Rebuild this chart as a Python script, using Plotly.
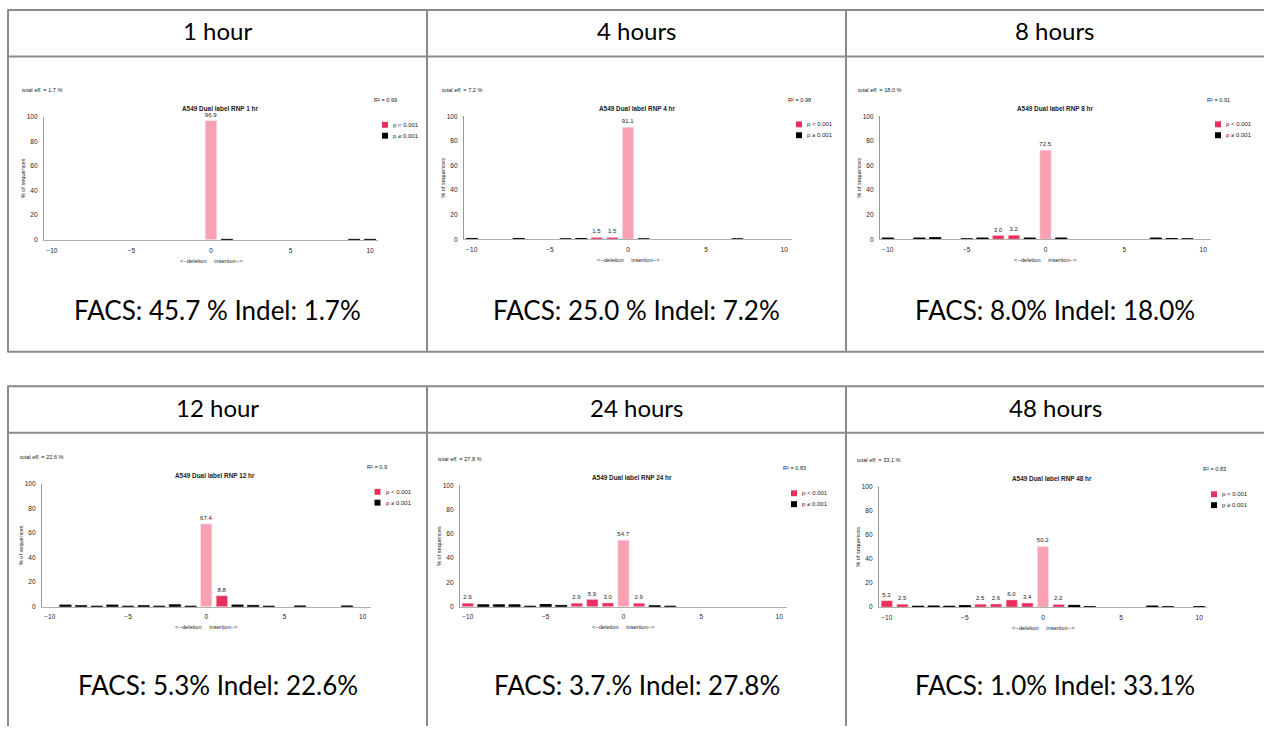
import plotly.graph_objects as go

W, H = 1264, 729

# ---------------- data ----------------
headers = ["1 hour", "4 hours", "8 hours", "12 hour", "24 hours", "48 hours"]
facs_text = ["FACS: 45.7 % Indel: 1.7%", "FACS: 25.0 % Indel: 7.2%", "FACS: 8.0% Indel: 18.0%",
             "FACS: 5.3% Indel: 22.6%", "FACS: 3.7.% Indel: 27.8%", "FACS: 1.0% Indel: 33.1%"]
chart_titles = ["A549 Dual label RNP 1 hr", "A549 Dual label RNP 4 hr", "A549 Dual label RNP 8 hr",
                "A549 Dual label RNP 12 hr", "A549 Dual label RNP 24 hr", "A549 Dual label RNP 48 hr"]
total_eff = ["1.7", "7.2", "18.0", "22.6", "27.8", "33.1"]
r_squared = ["0.99", "0.98", "0.91", "0.9", "0.83", "0.83"]

# indel size, % of sequences, class: wt = unmodified, s = p < 0.001, ns = p >= 0.001
p1_size = [0, 1, 9, 10]
p1_val = [96.9, 0.3, 0.3, 0.3]
p1_cls = ["wt", "ns", "ns", "ns"]

p2_size = [-10, -7, -4, -3, -2, -1, 0, 1, 7]
p2_val = [0.6, 0.6, 0.3, 0.6, 1.5, 1.5, 91.1, 0.3, 0.3]
p2_cls = ["ns", "ns", "ns", "ns", "s", "s", "wt", "ns", "ns"]

p3_size = [-10, -8, -7, -5, -4, -3, -2, -1, 0, 1, 7, 8, 9]
p3_val = [1.0, 1.0, 1.3, 0.4, 1.0, 3.0, 3.2, 1.0, 72.5, 1.0, 1.0, 0.6, 0.4]
p3_cls = ["ns", "ns", "ns", "ns", "ns", "s", "s", "ns", "wt", "ns", "ns", "ns", "ns"]

p4_size = [-9, -8, -7, -6, -5, -4, -3, -2, -1, 0, 1, 2, 3, 4, 6, 9]
p4_val = [1.3, 0.8, 0.4, 1.3, 0.4, 0.8, 0.4, 1.5, 0.4, 67.4, 8.8, 1.3, 1.0, 0.4, 0.6, 0.6]
p4_cls = ["ns", "ns", "ns", "ns", "ns", "ns", "ns", "ns", "ns", "wt", "s", "ns", "ns", "ns", "ns", "ns"]

p5_size = [-10, -9, -8, -7, -6, -5, -4, -3, -2, -1, 0, 1, 2, 3]
p5_val = [2.9, 1.5, 1.5, 1.5, 0.4, 1.8, 1.0, 2.9, 5.9, 3.0, 54.7, 2.9, 0.8, 0.4]
p5_cls = ["s", "ns", "ns", "ns", "ns", "ns", "ns", "s", "s", "s", "wt", "s", "ns", "ns"]

p6_size = [-10, -9, -8, -7, -6, -5, -4, -3, -2, -1, 0, 1, 2, 3, 7, 8, 10]
p6_val = [5.3, 2.5, 0.8, 1.0, 0.8, 1.3, 2.5, 2.6, 6.0, 3.4, 50.2, 2.2, 1.5, 0.4, 1.0, 0.4, 0.4]
p6_cls = ["s", "s", "ns", "ns", "ns", "ns", "s", "s", "s", "s", "wt", "s", "ns", "ns", "ns", "ns", "ns"]

panels = [(p1_size, p1_val, p1_cls), (p2_size, p2_val, p2_cls), (p3_size, p3_val, p3_cls),
          (p4_size, p4_val, p4_cls), (p5_size, p5_val, p5_cls), (p6_size, p6_val, p6_cls)]

x_ticks = [-10, -5, 0, 5, 10]
y_ticks = [0, 20, 40, 60, 80, 100]

# ---------------- layout geometry (pixels) ----------------
# plot area: x left, x right, y of 0, y of 100
plot_px = [(44, 378, 238, 114), (464, 792, 237.5, 113.5), (880, 1211, 237.5, 113.5),
           (42, 370.5, 608.5, 484.5), (460, 787, 608.5, 486), (879, 1207, 609, 487)]
col_edges = [8, 427, 846, 1264]
row_tops = [(6, 53, 351), (386, 433, 729)]

COL_WT = "#F7A1B3"
COL_S = "#E8305F"
COL_NS = "#000000"
CHART_FONT = "Liberation Sans, Arial, sans-serif"
TABLE_FONT = "Lato, Open Sans, sans-serif"
LINE = "#8a8a8a"


def px(x):
    return x / W


def py(y):
    return 1 - y / H


fig = go.Figure()
annotations = []
shapes = []

bar_lines = {"wt": dict(color="#fbe3e8", width=0.6), "s": dict(color="#f5c3cf", width=0.5),
             "ns": dict(color="#000000", width=0.9)}

for i, (sizes, vals, cls) in enumerate(panels):
    k = i + 1
    xa = "x" if k == 1 else f"x{k}"
    ya = "y" if k == 1 else f"y{k}"
    for c, col in (("wt", COL_WT), ("s", COL_S), ("ns", COL_NS)):
        xs = [s for s, cc in zip(sizes, cls) if cc == c]
        ys = [v for v, cc in zip(vals, cls) if cc == c]
        if not xs:
            continue
        fig.add_trace(go.Bar(
            x=xs, y=ys, xaxis=xa, yaxis=ya, width=0.72,
            marker=dict(color=col, line=bar_lines[c]),
            text=[f"{v:.1f}" for v in ys] if c != "ns" else None,
            textposition="outside", textfont=dict(size=6, color="#222", family=CHART_FONT),
            constraintext="none", cliponaxis=False, showlegend=False, hoverinfo="x+y",
        ))
    l, r, y0, y100 = plot_px[i]
    fig.layout[f"xaxis{'' if k == 1 else k}"] = dict(
        domain=[px(l), px(r)], range=[-10.5, 10.5], anchor=ya, tickvals=x_ticks,
        showline=True, linecolor="#b0b0b0", linewidth=1, showgrid=False, zeroline=False,
        ticks="", ticklabelstandoff=4, tickfont=dict(size=6.5, color="#222", family=CHART_FONT),
        fixedrange=True)
    fig.layout[f"yaxis{'' if k == 1 else k}"] = dict(
        domain=[py(y0), py(y100)], range=[0, 100], anchor=xa, tickvals=y_ticks,
        showline=True, linecolor="#999999", linewidth=1.2, showgrid=False, zeroline=False,
        ticks="", ticklabelstandoff=4, tickfont=dict(size=6.5, color="#222", family=CHART_FONT),
        fixedrange=True)

    x0px = (l + r) / 2
    cf = dict(family=CHART_FONT, color="#222")
    annotations += [
        dict(x=px(l - 24), y=py(y100 - 27), text=f"total eff. = {total_eff[i]} %", xanchor="left",
             yanchor="middle", font=dict(size=5.6, **cf)),
        dict(x=px(r - 6), y=py(y100 - 17), text=f"R² = {r_squared[i]}", xanchor="left",
             yanchor="middle", font=dict(size=5.6, **cf)),
        dict(x=px(x0px + 9), y=py(y100 - 8), text=f"<b>{chart_titles[i]}</b>", xanchor="center",
             yanchor="middle", font=dict(size=6.4, **cf)),
        dict(x=px(l - 21), y=py((y0 + y100) / 2), text="% of sequences", textangle=-90,
             xanchor="center", yanchor="middle", font=dict(size=5.6, **cf)),
        dict(x=px(x0px), y=py(y0 + 21), text="&lt;--deletion&nbsp;&nbsp;&nbsp;&nbsp;&nbsp;insertion--&gt;",
             xanchor="center", yanchor="middle", font=dict(size=5.6, **cf)),
        dict(x=px(r + 13), y=py(y100 + 8), text="p &lt; 0.001", xanchor="left", yanchor="middle",
             font=dict(size=6, **cf)),
        dict(x=px(r + 13), y=py(y100 + 19), text="p ≥ 0.001", xanchor="left", yanchor="middle",
             font=dict(size=6, **cf)),
    ]
    for dy, col in ((8, COL_S), (19, COL_NS)):
        shapes.append(dict(type="rect", xref="paper", yref="paper",
                           x0=px(r + 4), x1=px(r + 10), y0=py(y100 + dy - 3), y1=py(y100 + dy + 3),
                           fillcolor=col, line=dict(width=0)))

    # table cell texts
    row = i // 3
    colk = i % 3
    cx = (col_edges[colk] + col_edges[colk + 1]) / 2
    top, hdr, bot = row_tops[row]
    annotations.append(dict(x=px(cx), y=py((top + hdr) / 2 - 2.5), text=headers[i], xanchor="center",
                            yanchor="middle", font=dict(size=24, family=TABLE_FONT, color="#000")))
    facs_y = 309 if row == 0 else 688
    annotations.append(dict(x=px(cx), y=py(facs_y), text=facs_text[i], xanchor="center",
                            yanchor="middle", font=dict(size=26, family=TABLE_FONT, color="#000")))

# table lines
for top, hdr, bot in row_tops:
    for yy in (top, hdr) + ((bot,) if bot < H else ()):
        shapes.append(dict(type="line", xref="paper", yref="paper", x0=px(col_edges[0]) - 0.0005,
                           x1=1.0, y0=py(yy), y1=py(yy), line=dict(color=LINE, width=2)))
    for xx in col_edges[:3]:
        shapes.append(dict(type="line", xref="paper", yref="paper", x0=px(xx), x1=px(xx),
                           y0=py(top), y1=py(bot), line=dict(color=LINE, width=2)))

for a in annotations:
    a.update(xref="paper", yref="paper", showarrow=False)

fig.update_layout(
    width=W, height=H, autosize=False, margin=dict(l=0, r=0, t=0, b=0),
    paper_bgcolor="white", plot_bgcolor="white", barmode="overlay",
    annotations=annotations, shapes=shapes, showlegend=False,
    font=dict(family=CHART_FONT),
)

fig.write_html("out.html", config={"displayModeBar": False},
               post_script="document.body.style.margin='0';document.body.style.overflow='hidden';")
